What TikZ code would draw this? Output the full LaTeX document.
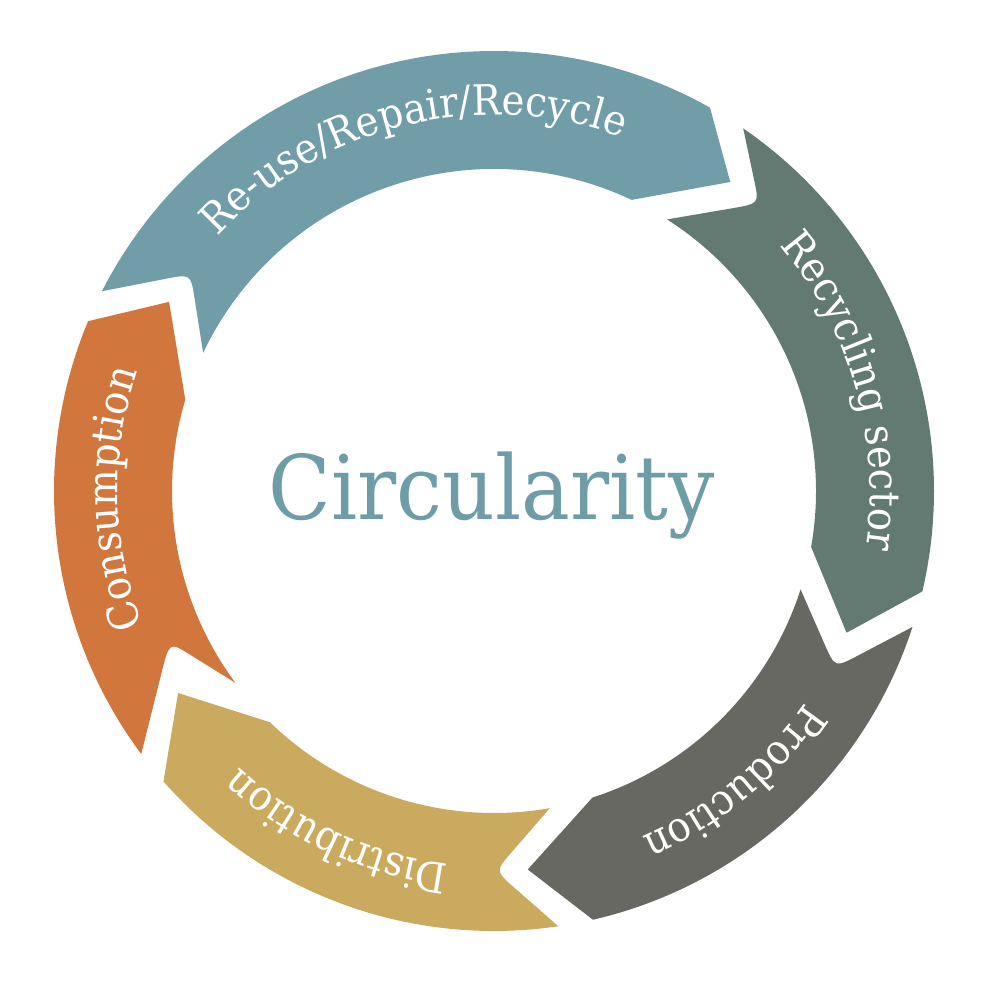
\documentclass[tikz,border=0pt]{standalone}
\usepackage{fontspec}
\setmainfont{DejaVu Serif}[FakeStretch=0.92]
\usetikzlibrary{calc,decorations.text}
\definecolor{cReuse}{HTML}{709DA7}
\definecolor{cRecyc}{HTML}{637A72}
\definecolor{cProd}{HTML}{676861}
\definecolor{cDist}{HTML}{CAAA5E}
\definecolor{cCons}{HTML}{D1763C}
\definecolor{cCirc}{HTML}{6E9DA8}
\newcommand\lblfont{\fontsize{42}{48}\selectfont\color{white}}
% #1 colour, #2 tail outer angle, #3 notch angle, #4 notch radius, #5 tail inner angle,
% #6 head inner angle, #7 tip angle, #8 tip radius, #9 head outer angle
\newcommand\arrowseg[9]{%
  \fill[#1] (#2:440pt) -- ($(#2:440pt)!0.7!(#3:#4pt)$) .. controls (#3:#4pt) .. ($(#3:#4pt)!0.3!(#5:322pt)$)
    -- (#5:322pt) arc[start angle=#5, end angle=#6, radius=322pt]
    -- (#7:#8pt) -- (#9:440pt) arc[start angle=#9, end angle=#2, radius=440pt] -- cycle;}
\newcommand\arclabel[2]{%
  \path[decorate, decoration={text along path, text align=center, text={|\lblfont|#2}}]
    ($(#1+45:376pt)$) arc[start angle=#1+45, end angle=#1-45, radius=376pt];}
\begin{document}
\begin{tikzpicture}[x=1pt,y=1pt]
\fill[white] (-494,-509) rectangle (502,491);
\useasboundingbox (-494,-509) rectangle (502,491);
% segments (clockwise)
\arrowseg{cReuse}{153.0}{144.4}{373}{154.6}{64.7}{52.6}{389}{60.6}
\arrowseg{cRecyc}{55.5}{47.3}{391}{57.5}{-10}{-21.9}{380}{-13.2}
\arrowseg{cProd}{-18}{-27.4}{384}{-17.8}{-72.2}{-84.9}{380}{-77}
\arrowseg{cDist}{-81.6}{-89.8}{380}{-80}{-134.1}{-147.4}{375}{-138.7}
\arrowseg{cCons}{216.7}{204.9}{358}{216.6}{163.5}{149.8}{376}{157.3}
% labels
\arclabel{103.75}{Re-use/Repair/Recycle}
\arclabel{16}{Recycling sector}
\arclabel{-50.5}{Production}
\arclabel{-114.8}{Distribution}
\arclabel{181.2}{Consumption}
\node[anchor=base, text=cCirc, font=\fontsize{89}{100}\selectfont, inner sep=0pt] (circ) at (-2,-29) {Circularity};
\end{tikzpicture}
\end{document}
